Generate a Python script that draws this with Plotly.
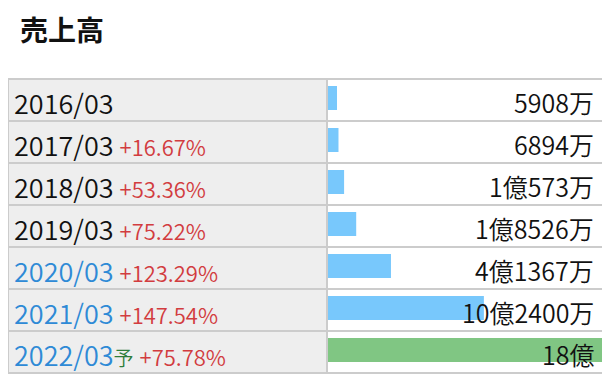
import plotly.graph_objects as go

# The page places the figure 8px from the top-left corner (default body margin),
# so the figure is 604x370 and screen positions are converted by subtracting 8.
OFF = 8
W, H = 612 - OFF, 378 - OFF

# ---- data ----
periods = ["2016/03", "2017/03", "2018/03", "2019/03", "2020/03", "2021/03", "2022/03"]
growth = ["", "+16.67%", "+53.36%", "+75.22%", "+123.29%", "+147.54%", "+75.78%"]
sales_man = [5908, 6894, 10573, 18526, 41367, 102400, 180000]  # in 万円
value_labels = ["5908万", "6894万", "1億573万", "1億8526万", "4億1367万", "10億2400万", "18億"]
forecast = [False, False, False, False, False, False, True]
highlight = [False, False, False, False, True, True, True]

# ---- style ----
FONT = "Noto Sans CJK JP, Noto Sans, sans-serif"
GRID = "#cccccc"
LEFT_BG = "#eeeeee"
BAR_BLUE = "#78c8fc"
BAR_GREEN = "#80c683"
RED = "#d23c3f"
BLUE = "#2e8ad6"
GREEN = "#2e7d3a"

n = len(periods)
top_px, row_h = 79, 42
bottom_px = top_px + row_h * n
left_px, mid_px, right_px = 8, 327, 604
bar0_px, bar1_px = 328, 602


def px(x):
    return (x - OFF) / W


def py(y):
    return 1 - (y - OFF) / H


fig = go.Figure()

fig.add_trace(go.Bar(
    y=list(range(n)),
    x=sales_man,
    orientation="h",
    marker=dict(color=[BAR_GREEN if f else BAR_BLUE for f in forecast], line=dict(width=0)),
    width=24 / row_h,
    offset=-14 / row_h,
    hoverinfo="skip",
))

shapes = []
for i in range(n):
    y0 = top_px + i * row_h
    y1 = y0 + row_h
    shapes.append(dict(type="rect", xref="paper", yref="paper",
                       x0=px(left_px), x1=px(mid_px), y0=py(y0), y1=py(y1),
                       fillcolor=LEFT_BG, line=dict(width=0), layer="below"))
# horizontal grid lines
for i in range(n + 1):
    y = top_px + i * row_h
    shapes.append(dict(type="line", xref="paper", yref="paper",
                       x0=px(left_px), x1=px(bar1_px), y0=py(y), y1=py(y),
                       line=dict(color=GRID, width=2), layer="above"))
# vertical lines
for x in (left_px, mid_px, right_px + 1):
    shapes.append(dict(type="line", xref="paper", yref="paper",
                       x0=px(x), x1=px(x), y0=py(top_px - 1), y1=py(bottom_px + 1),
                       line=dict(color=GRID, width=2), layer="above"))

annotations = []
for i in range(n):
    col = BLUE if highlight[i] else "#111111"
    txt = f'<span style="color:{col}">{periods[i]}</span>'
    if forecast[i]:
        txt += f'<span style="color:{GREEN};font-size:20px">予</span>'
    if growth[i]:
        txt += f' <span style="color:{RED};font-size:22px">{growth[i]}</span>'
    annotations.append(dict(xref="paper", yref="y", x=px(12), y=i, text=txt,
                            xanchor="left", yanchor="middle", showarrow=False,
                            yshift=-2, font=dict(family=FONT, size=27, color="#111111",
                                                 weight=350)))
    annotations.append(dict(xref="paper", yref="y", x=px(596), y=i, text=value_labels[i],
                            xanchor="right", yanchor="middle", showarrow=False,
                            yshift=-2, font=dict(family=FONT, size=25, color="#111111",
                                                 weight=350)))

annotations.append(dict(xref="paper", yref="paper", x=px(18), y=py(29), text="<b>売上高</b>",
                        xanchor="left", yanchor="middle", showarrow=False,
                        font=dict(family=FONT, size=28, color="#111111")))

fig.update_layout(
    width=W, height=H,
    margin=dict(l=0, r=0, t=0, b=0),
    paper_bgcolor="white", plot_bgcolor="white",
    showlegend=False,
    xaxis=dict(domain=[px(bar0_px), px(bar1_px)], range=[0, max(sales_man)],
               visible=False, fixedrange=True),
    yaxis=dict(domain=[py(bottom_px), py(top_px)], range=[n - 0.5, -0.5],
               visible=False, fixedrange=True),
    shapes=shapes,
    annotations=annotations,
)

fig.write_html("out.html")
